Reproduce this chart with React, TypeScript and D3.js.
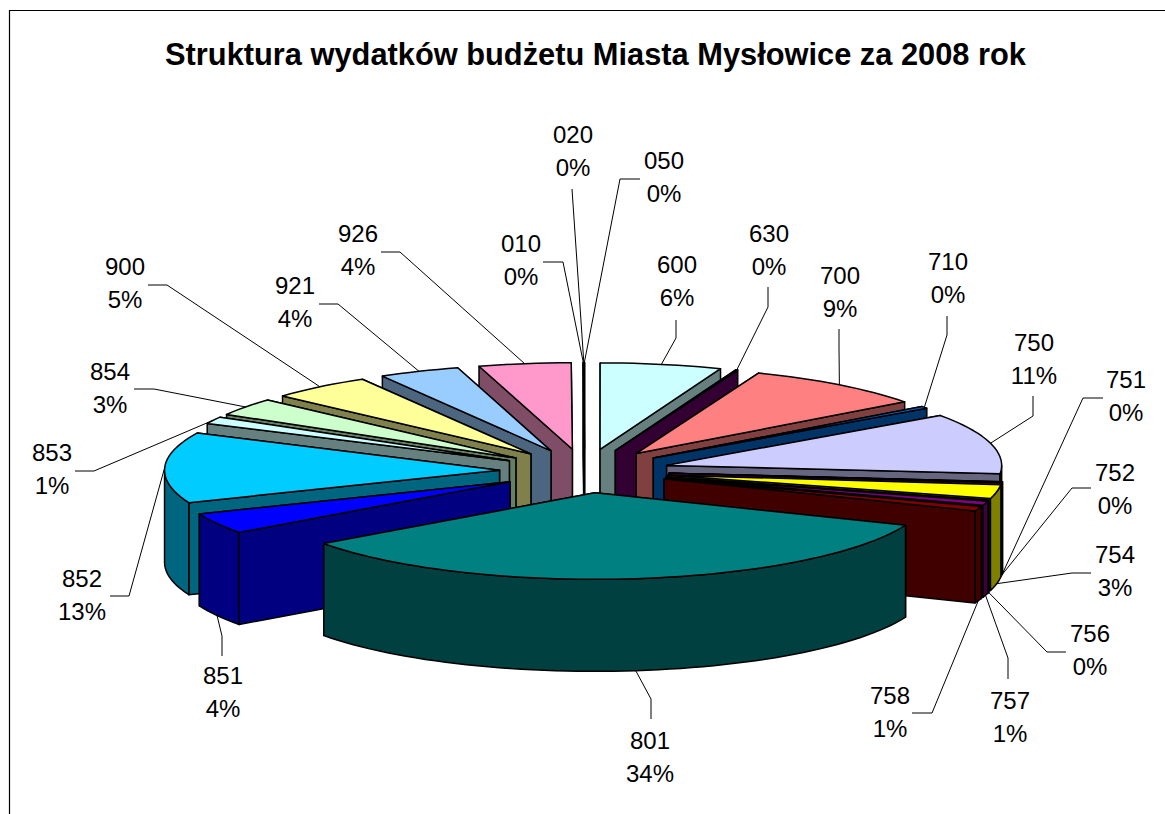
import React from "react";
import * as d3 from "d3";

const TITLE = "Struktura wydatków budżetu Miasta Mysłowice za 2008 rok";
const categories = ["010","020","050","600","630","700","710","750","751","752","754","756","757","758","801","851","852","853","854","900","921","926"];
const values = [0.02,0.02,0.02,5.85,0.1,8.85,0.4,11.35,0.1,0.1,2.6,0.05,0.8,0.9,33.9,3.9,13.2,1.3,3.3,4.9,3.9,4.44];
const percentLabels = ["0%","0%","0%","6%","0%","9%","0%","11%","0%","0%","3%","0%","1%","1%","34%","4%","13%","1%","3%","5%","4%","4%"];
const topColors = ["#ffffff","#ffffff","#ffffff","#ccffff","#660066","#ff8080","#0066cc","#ccccff","#000080","#ff00ff","#ffff00","#00ffff","#800080","#800000","#008080","#0000ff","#00ccff","#ccffff","#ccffcc","#ffff99","#99ccff","#ff99cc"];

// label layout: [label centre x, first-line baseline y, knee x, knee y, end x, end y]
const labelLayout: number[][] = [
  [521,252,563,262,543,262],
  [573,143,572,189,572,189],
  [664,169,620,179,640,179],
  [677,273,676,338,676,320],
  [769,242,768,307,768,287],
  [840,284,839,348,839,329],
  [948,270,947,335,947,316],
  [1034,351,1033,416,1033,396],
  [1126,388,1083,398,1103,398],
  [1115,481,1072,488,1091,488],
  [1115,563,1072,573,1091,573],
  [1090,642,1047,652,1066,652],
  [1010,709,1008,658,1008,679],
  [890,704,932,713,912,713],
  [650,749,651,699,651,719],
  [223,684,222,636,222,656],
  [82,587,129,596,110,596],
  [52,461,94,471,75,471],
  [110,380,154,389,134,389],
  [125,275,167,285,148,285],
  [295,294,338,304,319,304],
  [358,242,400,252,381,252],
];

const cx = 584.5, cy = 471, rx = 335, ry = 86.5, explode = 85 / 335, depth = 92;
const startDeg = -0.2;

const px = d3.scaleLinear().domain([-1, 1]).range([cx - rx, cx + rx]);
const py = d3.scaleLinear().domain([-1, 1]).range([cy + ry, cy - ry]);
const pie = d3.pie<number>().sort(null).startAngle(startDeg * Math.PI / 180).endAngle((startDeg + 360) * Math.PI / 180);
const arcs = pie(values);
const line = d3.line<number[]>().x(d => d[0]).y(d => d[1]);
const shade = (c: string) => d3.interpolateRgb(c, "#000000")(0.5);

type Slice = { i: number; a0: number; a1: number; mid: number; ax: number; ay: number };
const slices: Slice[] = arcs.map((a, i) => {
  const mid = (a.startAngle + a.endAngle) / 2;
  return {
    i, a0: a.startAngle, a1: a.endAngle, mid,
    ax: px(Math.sin(mid) * explode),
    ay: py(Math.cos(mid) * explode),
  };
});
const rim = (s: Slice, t: number, dz = 0): number[] => [
  s.ax + (px(Math.sin(t)) - cx),
  s.ay + (py(Math.cos(t)) - cy) + dz,
];
const arcPoints = (s: Slice, from: number, to: number, dz = 0) => {
  const n = Math.max(1, Math.ceil((to - from) / (Math.PI / 90)));
  return d3.range(n + 1).map(k => rim(s, from + (to - from) * k / n, dz));
};

// back-to-front: right side clockwise, left side anticlockwise, largest front slice last
const frontIdx = categories.indexOf("801");
const paintOrder = [
  ...slices.slice(0, frontIdx),
  ...slices.slice(frontIdx + 1).reverse(),
  slices[frontIdx],
];

const strokeProps = { stroke: "#000", strokeWidth: 1.5, strokeLinejoin: "round" as const };

function SliceShape({ s }: { s: Slice }) {
  const top = topColors[s.i];
  const wall = s.i < 3 ? "#ffffff" : shade(top);
  const apex = [s.ax, s.ay];
  const apexLow = [s.ax, s.ay + depth];
  const edgeWall = (t: number) =>
    line([apex, rim(s, t), rim(s, t, depth), apexLow])! + "Z";
  const fA = Math.max(s.a0, Math.PI / 2);
  const fB = Math.min(s.a1, Math.PI * 1.5);
  const hasOuter = fB > fA;
  const outer = hasOuter
    ? line([...arcPoints(s, fA, fB), ...arcPoints(s, fA, fB, depth).reverse()])! + "Z"
    : null;
  const topPath = line([apex, ...arcPoints(s, s.a0, s.a1)])! + "Z";
  // the edge wall facing the viewer is painted after the one facing away
  const onLeft = s.mid > Math.PI;
  const back = onLeft ? s.a1 : s.a0;
  const front = onLeft ? s.a0 : s.a1;
  return (
    <g>
      <path d={edgeWall(back)} fill={wall} {...strokeProps} />
      <path d={edgeWall(front)} fill={wall} {...strokeProps} />
      {outer && <path d={outer} fill={wall} {...strokeProps} />}
      <path d={topPath} fill={top} {...strokeProps} />
    </g>
  );
}

export default function App() {
  return (
    <svg width={1165} height={814} style={{ position: "absolute", left: 0, top: 0, display: "block", background: "#fff" }}
      fontFamily="'Liberation Sans', Arial, sans-serif">
      <path d="M9.5 814V10.5H1165" fill="none" stroke="#000" strokeWidth={1.2} />
      <text x={595.5} y={65} textAnchor="middle" fontSize={30.8} fontWeight={700} fill="#000">{TITLE}</text>
      {paintOrder.map(s => <SliceShape key={s.i} s={s} />)}
      {slices.map(s => {
        const [lx, ly, kx, ky, ex, ey] = labelLayout[s.i];
        const start = rim(s, s.mid, Math.cos(s.mid) < 0 ? depth : 0);
        return (
          <g key={s.i}>
            <path d={line([start, [kx, ky], [ex, ey]])!} fill="none" stroke="#000" strokeWidth={1} />
            <text x={lx} y={ly} textAnchor="middle" fontSize={24} fill="#000">{categories[s.i]}</text>
            <text x={lx} y={ly + 32.5} textAnchor="middle" fontSize={24} fill="#000">{percentLabels[s.i]}</text>
          </g>
        );
      })}
    </svg>
  );
}
